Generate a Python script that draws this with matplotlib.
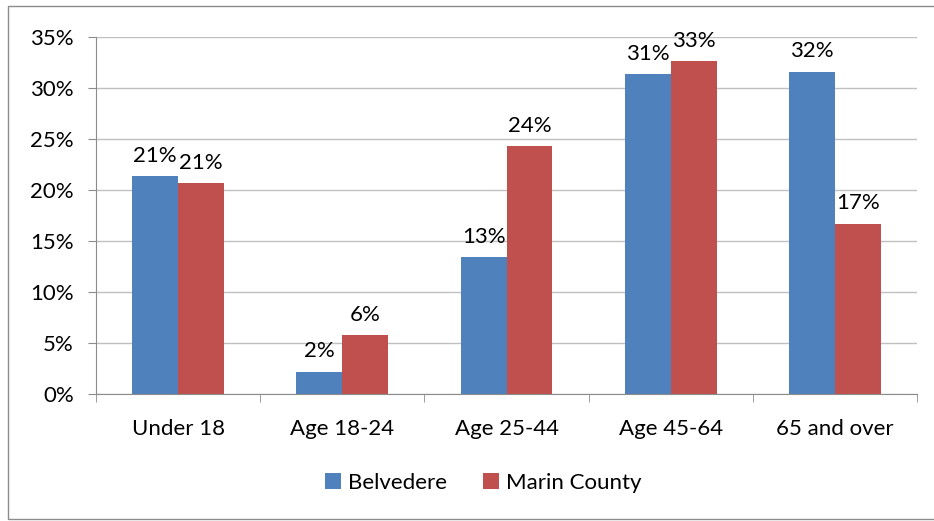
import numpy as np
import matplotlib
matplotlib.use("Agg")
import matplotlib.pyplot as plt
from matplotlib.patches import Rectangle
from matplotlib.ticker import FuncFormatter

plt.rcParams['font.family'] = ['Lato', 'DejaVu Sans']

# Data
categories = ["Under 18", "Age 18-24", "Age 25-44", "Age 45-64", "65 and over"]
belvedere = [21.4, 2.2, 13.4, 31.4, 31.6]
marin = [20.7, 5.8, 24.3, 32.6, 16.7]

blue = '#4F81BD'
red = '#C0504D'
fs = 16

fig = plt.figure(figsize=(9.34, 5.21), dpi=100)
ax = fig.add_axes([0.1028, 0.2438, 0.8790, 0.6852])

# outer chart frame
fig.patches.append(Rectangle((8 / 934, 2 / 521), 1.2, 513 / 521, transform=fig.transFigure,
                             fill=False, edgecolor='#8c8c8c', linewidth=1.0))

x = np.arange(len(categories))
w = 0.28
b1 = ax.bar(x - w / 2, belvedere, w, color=blue, label='Belvedere')
b2 = ax.bar(x + w / 2, marin, w, color=red, label='Marin County')

for bars in (b1, b2):
    for r in bars:
        h = r.get_height()
        ax.text(r.get_x() + r.get_width() / 2, h + 1.0, f"{h:.0f}%",
                ha='center', va='bottom', fontsize=fs)

ax.set_xlim(-0.5, len(categories) - 0.5)
ax.set_ylim(0, 35)
ax.set_yticks(np.arange(0, 36, 5))
ax.yaxis.set_major_formatter(FuncFormatter(lambda v, p: f"{v:.0f}%"))
ax.set_xticks(x)
ax.set_xticklabels(categories)
ax.set_xticks(np.arange(-0.5, len(categories), 1), minor=True)
ax.tick_params(axis='x', which='major', length=0, labelsize=fs, pad=18)
ax.tick_params(axis='x', which='minor', length=6, color='#8c8c8c')
ax.tick_params(axis='y', length=6, color='#8c8c8c', labelsize=fs, pad=10)

ax.yaxis.grid(True, color='#c0c0c0', linewidth=1)
ax.set_axisbelow(True)
for s in ['top', 'right']:
    ax.spines[s].set_visible(False)
for s in ['left', 'bottom']:
    ax.spines[s].set_color('#8c8c8c')

ax.legend(loc='center', bbox_to_anchor=(483 / 934, 38 / 521), bbox_transform=fig.transFigure,
          ncol=2, frameon=False, fontsize=fs, handlelength=0.75, handleheight=0.75,
          columnspacing=1.6, handletextpad=0.3)

fig.savefig('out.png', dpi=100)
